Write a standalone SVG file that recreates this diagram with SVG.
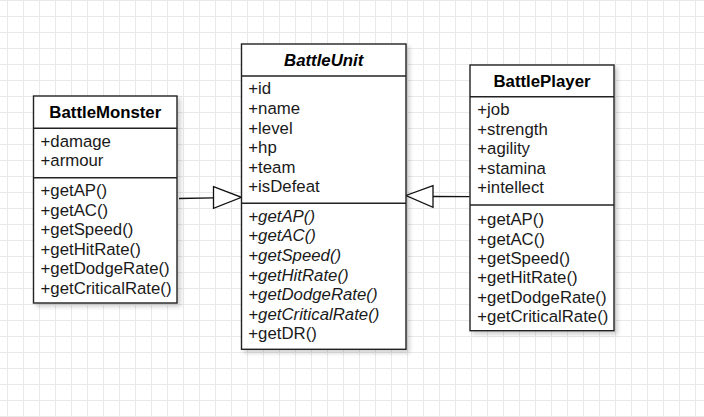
<svg xmlns="http://www.w3.org/2000/svg" width="704" height="417" viewBox="0 0 704 417">
  <defs>
    <pattern id="grid" x="7" y="0" width="16" height="16" patternUnits="userSpaceOnUse">
      <path d="M0 0.5 H16 M0.5 0 V16" fill="none" stroke="#e9e9e9" stroke-width="1"/>
    </pattern>
    <filter id="shadow" x="-10%" y="-10%" width="130%" height="130%">
      <feDropShadow dx="3" dy="3" stdDeviation="2" flood-color="#000" flood-opacity="0.18"/>
    </filter>
  </defs>
  <style>
    .box { fill: #ffffff; stroke: #222222; stroke-width: 1.4; }
    .div { stroke: #222222; stroke-width: 1.4; }
    .t { font-family: "Liberation Sans", Arial, sans-serif; font-size: 16.8px; fill: #1a1a1a; }
    .title { font-weight: bold; text-anchor: middle; fill: #000; }
    .it { font-style: italic; }
    .conn { fill: none; stroke: #111111; stroke-width: 1.3; }
    .tri { fill: #ffffff; stroke: #111111; stroke-width: 1.3; }
  </style>
  <rect width="704" height="417" fill="#ffffff"/>
  <rect width="704" height="417" fill="url(#grid)"/>

  <g id="connectors">
    <path class="conn" d="M179 198.5 L213.5 197.8"/>
    <polygon class="tri" points="213.5,186.7 241.5,197.3 213.5,208.3"/>
    <path class="conn" d="M469.5 196.7 L433 196.5"/>
    <polygon class="tri" points="433,185.7 406,195.5 433,207.3"/>
  </g>

  <g id="BattleMonster">
    <rect class="box" x="33.5" y="96" width="143.5" height="207" filter="url(#shadow)"/>
    <line class="div" x1="33.5" y1="128.3" x2="177" y2="128.3"/>
    <line class="div" x1="33.5" y1="177.7" x2="177" y2="177.7"/>
    <text class="t title" x="105.3" y="117.5">BattleMonster</text>
    <text class="t" x="40.5" y="146.7">+damage</text>
    <text class="t" x="40.5" y="166.3">+armour</text>
    <text class="t" x="40.5" y="196">+getAP()</text>
    <text class="t" x="40.5" y="215.6">+getAC()</text>
    <text class="t" x="40.5" y="235.2">+getSpeed()</text>
    <text class="t" x="40.5" y="254.8">+getHitRate()</text>
    <text class="t" x="40.5" y="274.4">+getDodgeRate()</text>
    <text class="t" x="40.5" y="294">+getCriticalRate()</text>
  </g>

  <g id="BattleUnit">
    <rect class="box" x="241.5" y="44" width="164.5" height="305.3" filter="url(#shadow)"/>
    <line class="div" x1="241.5" y1="76" x2="406" y2="76"/>
    <line class="div" x1="241.5" y1="203.3" x2="406" y2="203.3"/>
    <text class="t title it" x="323.7" y="66">BattleUnit</text>
    <text class="t" x="248.3" y="94.3">+id</text>
    <text class="t" x="248.3" y="113.9">+name</text>
    <text class="t" x="248.3" y="133.5">+level</text>
    <text class="t" x="248.3" y="153.1">+hp</text>
    <text class="t" x="248.3" y="172.7">+team</text>
    <text class="t" x="248.3" y="192.3">+isDefeat</text>
    <text class="t it" x="248.3" y="221.7">+getAP()</text>
    <text class="t it" x="248.3" y="241.3">+getAC()</text>
    <text class="t it" x="248.3" y="260.9">+getSpeed()</text>
    <text class="t it" x="248.3" y="280.5">+getHitRate()</text>
    <text class="t it" x="248.3" y="300.1">+getDodgeRate()</text>
    <text class="t it" x="248.3" y="319.7">+getCriticalRate()</text>
    <text class="t" x="248.3" y="339.3">+getDR()</text>
  </g>

  <g id="BattlePlayer">
    <rect class="box" x="470" y="65" width="144" height="265.7" filter="url(#shadow)"/>
    <line class="div" x1="470" y1="96.7" x2="614" y2="96.7"/>
    <line class="div" x1="470" y1="205" x2="614" y2="205"/>
    <text class="t title" x="542" y="86.5">BattlePlayer</text>
    <text class="t" x="477.3" y="115">+job</text>
    <text class="t" x="477.3" y="134.6">+strength</text>
    <text class="t" x="477.3" y="154.2">+agility</text>
    <text class="t" x="477.3" y="173.8">+stamina</text>
    <text class="t" x="477.3" y="193.4">+intellect</text>
    <text class="t" x="477.3" y="225.3">+getAP()</text>
    <text class="t" x="477.3" y="244.6">+getAC()</text>
    <text class="t" x="477.3" y="263.9">+getSpeed()</text>
    <text class="t" x="477.3" y="283.2">+getHitRate()</text>
    <text class="t" x="477.3" y="302.5">+getDodgeRate()</text>
    <text class="t" x="477.3" y="321.8">+getCriticalRate()</text>
  </g>
</svg>
